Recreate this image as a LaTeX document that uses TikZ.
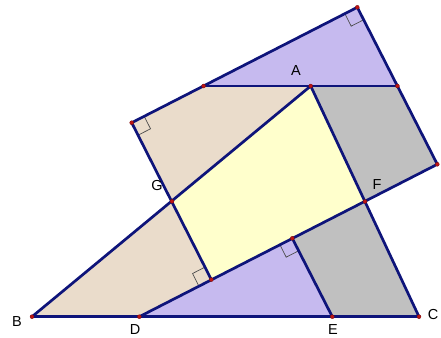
\documentclass[tikz,border=0pt]{standalone}
\usepackage{fontspec}
\setmainfont{Liberation Sans}
\usetikzlibrary{calc}

\definecolor{edgeblue}{RGB}{14,20,122}
\definecolor{lavender}{RGB}{198,186,239}
\definecolor{sand}{RGB}{234,220,203}
\definecolor{pale}{RGB}{255,255,204}
\definecolor{stone}{RGB}{192,192,192}
\definecolor{dotred}{RGB}{190,20,20}

\begin{document}
\begin{tikzpicture}[x=1pt, y=-1pt,
	every node/.style={font=\fontsize{14.5}{16}\selectfont, inner sep=1pt},
	edge/.style={draw=edgeblue, line width=2.7pt, line join=round, line cap=round},
	rmark/.style={draw=black!70, line width=0.7pt},
	pt/.style={circle, fill=dotred, draw=dotred!60!black, line width=0.3pt, inner sep=0pt, minimum size=4pt}]
	\useasboundingbox (0,0) rectangle (441,337);
	% the triangle and its cut points
	\coordinate (B) at (32,316.7);
	\coordinate (D) at (139.3,316.7);
	\coordinate (E) at (332.3,316.7);
	\coordinate (C) at (419,316.7);
	\coordinate (A) at (310.7,86);
	\coordinate (G) at (172,201.3);
	\coordinate (F) at (365,201.5);
	\coordinate (P) at (211.3,279.6);
	\coordinate (Q) at (292.3,238.3);
	% the rectangle
	\coordinate (T) at (131.7,122.7);
	\coordinate (K) at (357.3,7.3);
	\coordinate (U) at (437.3,164.3);
	\coordinate (S) at (203.6,86);
	\coordinate (R) at (397.4,86);

	\fill[sand] (B) -- (D) -- (P) -- (G) -- cycle;
	\fill[sand] (T) -- (S) -- (A) -- (G) -- cycle;
	\fill[lavender] (D) -- (E) -- (Q) -- cycle;
	\fill[lavender] (S) -- (K) -- (R) -- cycle;
	\fill[stone] (Q) -- (E) -- (C) -- (F) -- cycle;
	\fill[stone] (A) -- (R) -- (U) -- (F) -- cycle;
	\fill[pale] (G) -- (A) -- (F) -- (P) -- cycle;

	% right angle marks
	\foreach \c/\u/\v in {P/G/D, Q/D/E, K/S/R, T/S/G}
		\draw[rmark] ($(\c)!14pt!(\u)$) -- ($(\c)!14pt!(\u) + (\c)!14pt!(\v) - (\c)$) -- ($(\c)!14pt!(\v)$);

	\draw[edge] (B) -- (C);
	\draw[edge] (B) -- (A) -- (C);
	\draw[edge] (T) -- (K) -- (U);
	\draw[edge] (T) -- (P);
	\draw[edge] (D) -- (U);
	\draw[edge] (S) -- (R);
	\draw[edge] (Q) -- (E);

	\foreach \p in {A,B,C,D,E,F,G,P,Q,T,K,U,S,R}
		\node[pt] at (\p) {};

	\node (lA) at (296,71) {A};
	\node (lB) at (17,322) {B};
	\node (lC) at (433,315) {C};
	\node (lD) at (135,329.5) {D};
	\node (lE) at (333,329.5) {E};
	\node (lF) at (377,185) {F};
	\node (lG) at (157,186) {G};
\end{tikzpicture}
\end{document}
